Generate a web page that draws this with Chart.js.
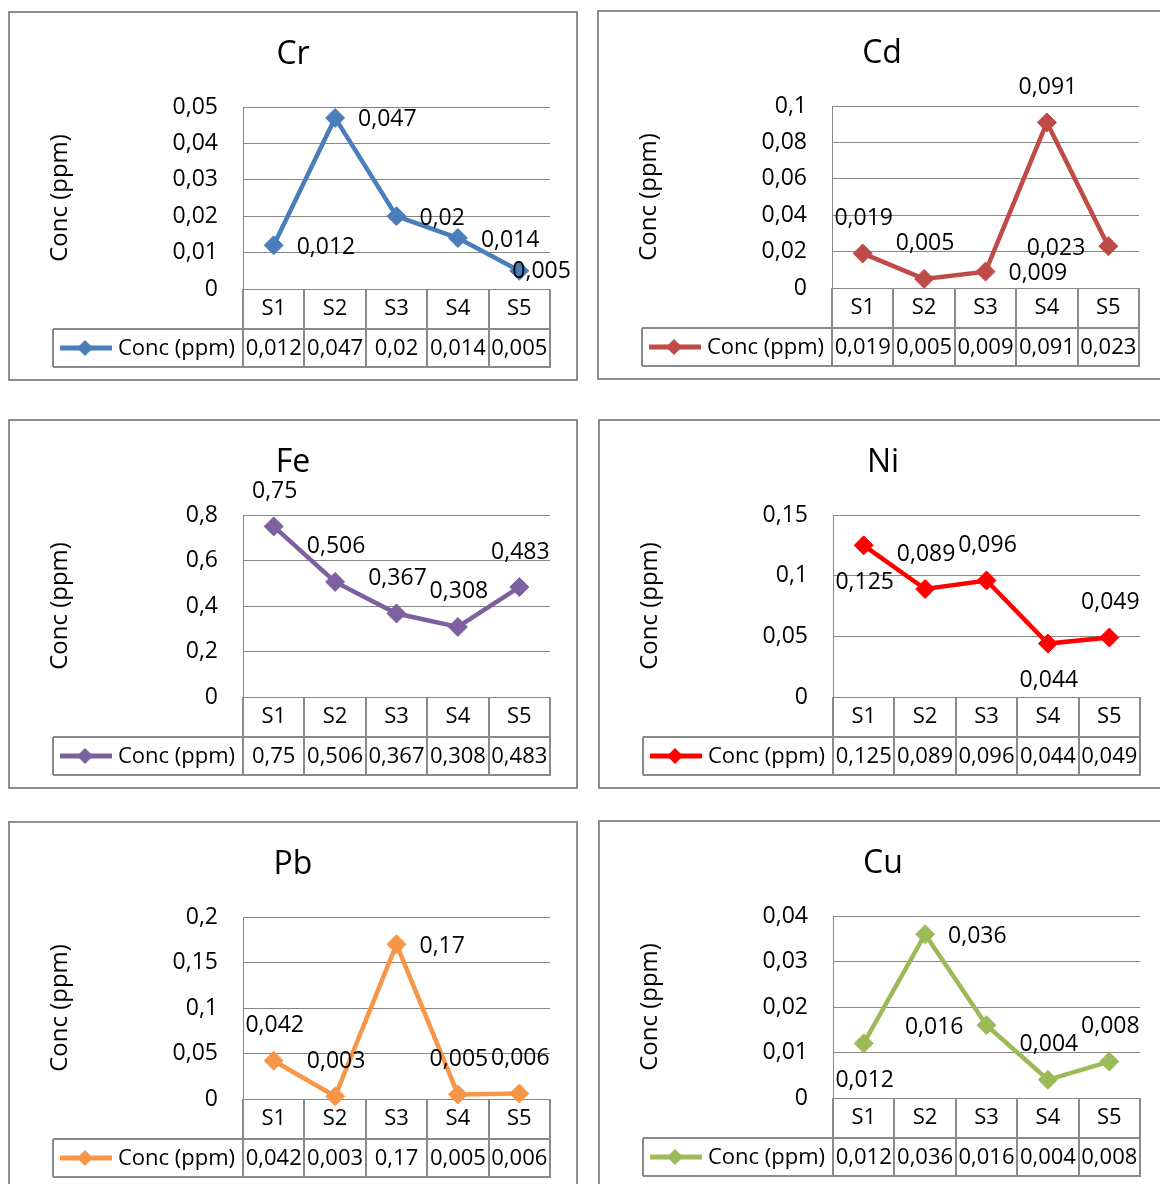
<!DOCTYPE html>
<html lang="en">
<head>
<meta charset="UTF-8">
<title>Conc (ppm)</title>
<script src="https://cdn.jsdelivr.net/npm/chart.js"></script>
<style>
  html, body { margin: 0; padding: 0; background: #fff; overflow: hidden; }
  body { width: 1160px; height: 1184px; position: relative; }
  .panel { position: absolute; }
</style>
</head>
<body>
<canvas id="crChart" class="panel" width="570" height="370" style="left:8px;top:11px"></canvas>
<canvas id="cdChart" class="panel" width="570" height="370" style="left:597px;top:10px"></canvas>
<canvas id="feChart" class="panel" width="570" height="370" style="left:8px;top:419px"></canvas>
<canvas id="niChart" class="panel" width="570" height="370" style="left:598px;top:419px"></canvas>
<canvas id="pbChart" class="panel" width="570" height="370" style="left:8px;top:821px"></canvas>
<canvas id="cuChart" class="panel" width="570" height="370" style="left:598px;top:820px"></canvas>

<script>
const categories = ['S1', 'S2', 'S3', 'S4', 'S5'];
const seriesName = 'Conc (ppm)';

const crValues = [0.012, 0.047, 0.02, 0.014, 0.005];
const cdValues = [0.019, 0.005, 0.009, 0.091, 0.023];
const feValues = [0.75, 0.506, 0.367, 0.308, 0.483];
const niValues = [0.125, 0.089, 0.096, 0.044, 0.049];
const pbValues = [0.042, 0.003, 0.17, 0.005, 0.006];
const cuValues = [0.012, 0.036, 0.016, 0.004, 0.008];

const crTicks = [0, 0.01, 0.02, 0.03, 0.04, 0.05];
const cdTicks = [0, 0.02, 0.04, 0.06, 0.08, 0.1];
const feTicks = [0, 0.2, 0.4, 0.6, 0.8];
const niTicks = [0, 0.05, 0.1, 0.15];
const pbTicks = [0, 0.05, 0.1, 0.15, 0.2];
const cuTicks = [0, 0.01, 0.02, 0.03, 0.04];

// where each data label sits: t = above, b = below, r = right, l = left, o = right, over the marker
const crLabelPos = ['r', 'r', 'r', 'r', 'o'];
const cdLabelPos = ['t', 't', 'r', 't', 'l'];
const feLabelPos = ['t', 't', 't', 't', 't'];
const niLabelPos = ['b', 't', 't', 'b', 't'];
const pbLabelPos = ['t', 't', 'r', 't', 't'];
const cuLabelPos = ['b', 'r', 'l', 't', 't'];

const FONT = '"Open Sans", "Liberation Sans", sans-serif';
const fmt = v => String(v).replace('.', ',');

const panels = [
  { id: 'crChart', title: 'Cr', values: crValues, ticks: crTicks, labelPos: crLabelPos, color: '#4a7ebb' },
  { id: 'cdChart', title: 'Cd', values: cdValues, ticks: cdTicks, labelPos: cdLabelPos, color: '#be4b48' },
  { id: 'feChart', title: 'Fe', values: feValues, ticks: feTicks, labelPos: feLabelPos, color: '#7d60a0' },
  { id: 'niChart', title: 'Ni', values: niValues, ticks: niTicks, labelPos: niLabelPos, color: '#ff0000' },
  { id: 'pbChart', title: 'Pb', values: pbValues, ticks: pbTicks, labelPos: pbLabelPos, color: '#f79646' },
  { id: 'cuChart', title: 'Cu', values: cuValues, ticks: cuTicks, labelPos: cuLabelPos, color: '#9bbb59' }
];

function diamond(ctx, x, y, r) {
  ctx.beginPath();
  ctx.moveTo(x, y - r);
  ctx.lineTo(x + r, y);
  ctx.lineTo(x, y + r);
  ctx.lineTo(x - r, y);
  ctx.closePath();
  ctx.fill();
}

// Excel style frame, title, data table under the axis and point labels
function excelPlugin(p) {
  return {
    id: 'excel_' + p.id,
    beforeDatasetsDraw(chart) {
      const { ctx, chartArea: a, scales: { x } } = chart;
      const W = chart.width, H = chart.height;
      const n = categories.length;
      const y0 = a.bottom, y1 = a.bottom + 40, y2 = y1 + 38;
      const tabLeft = 45;

      const bounds = [a.left];
      for (let i = 1; i < n; i++) bounds.push((x.getPixelForValue(i - 1) + x.getPixelForValue(i)) / 2);
      bounds.push(a.right);

      ctx.save();
      // outer frame
      ctx.strokeStyle = '#8e8e8e';
      ctx.lineWidth = 2;
      ctx.strokeRect(1, 1, W - 2, H - 2);

      // title
      ctx.fillStyle = '#000';
      ctx.font = '32px ' + FONT;
      ctx.textAlign = 'center';
      ctx.textBaseline = 'middle';
      ctx.fillText(p.title, W / 2, 44);

      // table lines
      ctx.strokeStyle = '#8a8a8a';
      ctx.lineWidth = 2;
      ctx.beginPath();
      bounds.forEach(b => { ctx.moveTo(Math.round(b), y0); ctx.lineTo(Math.round(b), y2); });
      ctx.moveTo(tabLeft, y1); ctx.lineTo(tabLeft, y2);
      ctx.moveTo(tabLeft, y1); ctx.lineTo(a.right, y1);
      ctx.moveTo(tabLeft, y2); ctx.lineTo(a.right + 1, y2);
      ctx.stroke();

      // category row + value row
      ctx.font = '22px ' + FONT;
      ctx.fillStyle = '#000';
      categories.forEach((c, i) => {
        const cx = x.getPixelForValue(i);
        ctx.fillText(c, cx, (y0 + y1) / 2);
        ctx.fillText(fmt(p.values[i]), cx, (y1 + y2) / 2 + 1);
      });

      // legend key
      const ly = (y1 + y2) / 2;
      ctx.strokeStyle = p.color;
      ctx.lineWidth = 5;
      ctx.beginPath();
      ctx.moveTo(tabLeft + 7, ly); ctx.lineTo(tabLeft + 59, ly);
      ctx.stroke();
      ctx.fillStyle = p.color;
      diamond(ctx, tabLeft + 32, ly, 8);
      ctx.fillStyle = '#000';
      ctx.textAlign = 'left';
      ctx.fillText(seriesName, tabLeft + 65, ly + 1);
      ctx.restore();
    },
    afterDatasetsDraw(chart) {
      const { ctx } = chart;
      const meta = chart.getDatasetMeta(0);
      ctx.save();
      ctx.font = '23px ' + FONT;
      ctx.fillStyle = '#000';
      ctx.textBaseline = 'middle';
      meta.data.forEach((pt, i) => {
        let tx = pt.x, ty = pt.y, align = 'center';
        const pos = p.labelPos[i];
        if (pos === 't') { tx += 1; ty -= 35; }
        else if (pos === 'b') { tx += 1; ty += 37; }
        else if (pos === 'r') { tx += 23; ty += 2; align = 'left'; }
        else if (pos === 'l') { tx -= 23; ty += 2; align = 'right'; }
        else if (pos === 'o') { tx -= 7; ty += 1; align = 'left'; }
        ctx.textAlign = align;
        ctx.fillText(fmt(p.values[i]), tx, ty);
      });
      ctx.restore();
    }
  };
}

panels.forEach(p => {
  new Chart(document.getElementById(p.id), {
    type: 'line',
    data: {
      labels: categories,
      datasets: [{
        label: seriesName,
        data: p.values,
        borderColor: p.color,
        backgroundColor: p.color,
        borderWidth: 4.5,
        pointStyle: 'rectRot',
        pointRadius: 9.5,
        pointBorderWidth: 1,
        pointBackgroundColor: p.color,
        pointBorderColor: p.color,
        tension: 0,
        clip: false
      }]
    },
    options: {
      responsive: false,
      animation: false,
      devicePixelRatio: 1,
      layout: { padding: { top: 96, bottom: 92, left: 0, right: 28 } },
      plugins: { legend: { display: false }, tooltip: { enabled: false } },
      scales: {
        x: { type: 'category', offset: true, display: false },
        y: {
          min: p.ticks[0],
          max: p.ticks[p.ticks.length - 1],
          afterBuildTicks: s => { s.ticks = p.ticks.map(v => ({ value: v })); },
          afterFit: s => { s.width = 235; },
          ticks: { padding: 25, color: '#000', font: { family: FONT, size: 23 }, callback: v => fmt(v) },
          grid: { color: '#868686', lineWidth: 1, drawTicks: false },
          border: { color: '#868686', width: 1 },
          title: {
            display: true, text: seriesName, color: '#000',
            font: { family: FONT, size: 24 }, padding: { top: 38, bottom: 0 }
          }
        }
      }
    },
    plugins: [excelPlugin(p)]
  });
});
</script>
</body>
</html>
